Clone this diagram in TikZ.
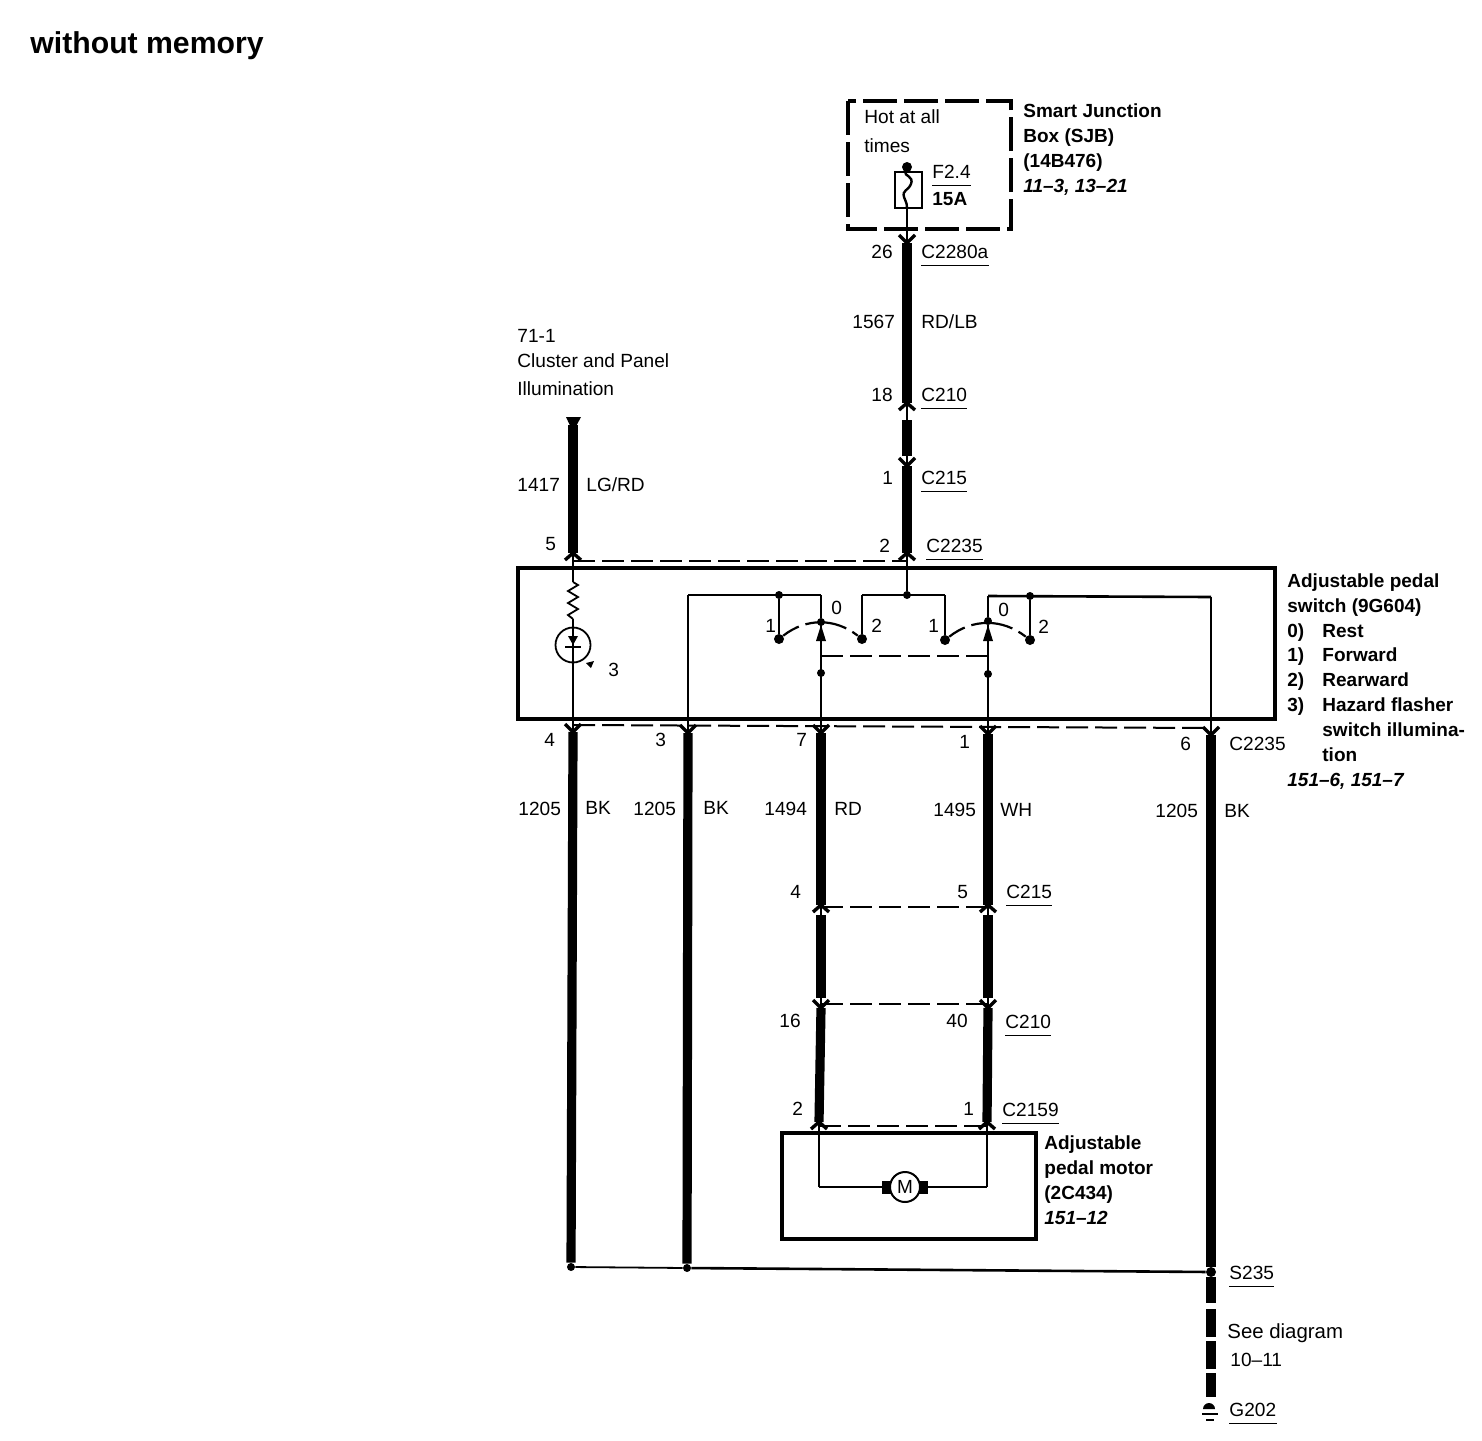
\documentclass[tikz,border=0pt]{standalone}
\usepackage{fontspec}
\setmainfont{Liberation Sans}
\usetikzlibrary{shapes,arrows.meta}
\tikzset{
  wdlabel/.style={anchor=base west, inner sep=0pt, font=\fontsize{9.55}{12}\selectfont},
  wdhead/.style={anchor=base west, inner sep=0pt, font=\fontsize{9.5}{12}\selectfont\bfseries},
  wdref/.style={anchor=base west, inner sep=0pt, font=\fontsize{9.5}{12}\selectfont\bfseries\itshape},
  wddot/.style={circle, fill=black, inner sep=0pt, minimum size=4pt},
  thickwire/.style={line width=4.6pt},
  thinwire/.style={line width=0.9pt},
  feedwire/.style={line width=1.3pt},
  forkline/.style={line width=1.7pt},
  dashwire/.style={line width=1pt, dash pattern=on 11pt off 3.5pt},
  casebox/.style={line width=2pt},
  rulewire/.style={line width=0.5pt},
  arcwire/.style={line width=1.1pt, dash pattern=on 9pt off 3.5pt on 21pt off 3.5pt on 10pt off 0pt}
}
\newcommand{\wdtxt}[3]{\node at (#1) (#2) [wdlabel] {#3};}
\newcommand{\wdbold}[3]{\node at (#1) (#2) [wdhead] {#3};}
\newcommand{\wdpage}[3]{\node at (#1) (#2) [wdref] {#3};}
\newcommand{\wdconn}[3]{\node at (#1) (#2) [wdlabel] {#3}; \draw [rulewire] ([yshift=-3.5pt]#2.base west) -- ([yshift=-3.5pt]#2.base east);}
\newcommand{\wdpt}[2]{\coordinate (#2) at (#1);}
\newcommand{\wddot}[2]{\node at (#1) (#2) [wddot] {};}
\newcommand{\wdthick}[2]{\draw [thickwire] (#1) -- (#2);}
\newcommand{\wdthin}[2]{\draw [thinwire] (#1) -- (#2);}
\newcommand{\wdfeed}[2]{\draw [feedwire] (#1) -- (#2);}
\newcommand{\wddash}[2]{\draw [dashwire] (#1) -- (#2);}
\newcommand{\wdforkup}[1]{\draw [forkline] ([shift={(-8,7)}]#1) -- (#1) -- ([shift={(8,7)}]#1);}
\newcommand{\wdforkdown}[1]{\draw [forkline] ([shift={(-8,-8)}]#1) -- (#1) -- ([shift={(8,-8)}]#1);}
\newcommand{\wdblade}[1]{\fill (#1) -- ([shift={(-5,16)}]#1) -- ([shift={(5,16)}]#1) -- cycle;}
\newcommand{\wdarc}[2]{\draw [arcwire] (#1) to[out=38, in=142] (#2);}
\begin{document}
\begin{tikzpicture}[x=0.5pt, y=-0.5pt]
\useasboundingbox (0,0) rectangle (1482,1440);
\node at (30,53) (title) [anchor=base west, inner sep=0pt, font=\fontsize{15.1}{18}\selectfont\bfseries] {without memory};

% smart junction box
\draw [casebox, dash pattern=on 17pt off 3.5pt] (848,101) rectangle (1011,229);
\wdtxt{864,123}{hot1}{Hot at all}
\wdtxt{864,152}{hot2}{times}
\wdconn{932,178}{fusename}{F2.4}
\wdbold{932,205}{fuseamps}{15A}
\wdbold{1023,117}{sjb1}{Smart Junction}
\wdbold{1023,142}{sjb2}{Box (SJB)}
\wdbold{1023,167}{sjb3}{(14B476)}
\wdpage{1023,192}{sjb4}{11--3, 13--21}
\draw [thinwire] (895,172) rectangle (922,208);
\node at (907,167) (fusein) [wddot, minimum size=5pt] {};
\wdpt{907,208}{fuseout}
\draw [thinwire, line width=1.2pt] (fusein) .. controls (904,176) and (914,176) .. (911,184) .. controls (908,191) and (902,190) .. (904,197) .. controls (905,201) and (907,202) .. (fuseout);

% main feed
\wdpt{907,243}{feeda}
\wdpt{907,403}{feedb}
\wdpt{907,420}{feedc}
\wdpt{907,456}{feedd}
\wdpt{907,466}{feede}
\wdpt{907,553}{feedf}
\wdpt{907,561}{feedtap}
\wddot{907,595}{swfeed}
\wdthin{fuseout}{feeda}
\wdforkdown{feeda}
\wdthick{feeda}{feedb}
\wdforkup{feedb}
\wdthin{feedb}{feedc}
\wdthick{feedc}{feedd}
\wdthin{feedd}{feede}
\wdforkdown{feede}
\wdthick{feede}{feedf}
\wdforkup{feedf}
\wdthin{feedf}{swfeed}
\wdtxt{871,258}{pina}{26}
\wdconn{921,258}{conna}{C2280a}
\wdtxt{852,328}{circa}{1567}
\wdtxt{921,328}{cola}{RD/LB}
\wdtxt{871,401}{pinb}{18}
\wdconn{921,401}{connb}{C210}
\wdtxt{882,484}{pinc}{1}
\wdconn{921,484}{connc}{C215}
\wdtxt{879,552}{pind}{2}
\wdconn{926,552}{connd}{C2235}

% illumination feed
\wdtxt{517,342}{illum1}{71-1}
\wdtxt{517,367}{illum2}{Cluster and Panel}
\wdtxt{517,395}{illum3}{Illumination}
\wdtxt{517,491}{circb}{1417}
\wdtxt{586,491}{colb}{LG/RD}
\wdtxt{545,550}{pine}{5}
\wdpt{573,425}{illa}
\wdpt{573,553}{illb}
\wdpt{573,561}{illtap}
\fill (566,417) -- (581,417) -- (573,432) -- cycle;
\wdthick{illa}{illb}
\wdforkup{illb}
\wddash{illtap}{feedtap}

% pedal switch
\draw [casebox] (518,568) rectangle (1275,719);
\wdbold{1287,587}{sw1}{Adjustable pedal}
\wdbold{1287,612}{sw2}{switch (9G604)}
\wdbold{1287,637}{sw3a}{0)}
\wdbold{1322,637}{sw3b}{Rest}
\wdbold{1287,661}{sw4a}{1)}
\wdbold{1322,661}{sw4b}{Forward}
\wdbold{1287,686}{sw5a}{2)}
\wdbold{1322,686}{sw5b}{Rearward}
\wdbold{1287,711}{sw6a}{3)}
\wdbold{1322,711}{sw6b}{Hazard flasher}
\wdbold{1322,736}{sw7}{switch illumina-}
\wdbold{1322,761}{sw8}{tion}
\wdpage{1287,786}{sw9}{151--6, 151--7}

% lamp
\wdpt{573,582}{resa}
\wdpt{573,619}{resb}
\wdpt{573,732}{lampout}
\wdthin{illb}{resa}
\draw [thinwire] (resa) -- ++(5,3) -- ++(-10,6) -- ++(10,6) -- ++(-10,6) -- ++(10,6) -- ++(-10,6) -- (resb);
\node at (573,645) (lamp) [circle, draw, line width=0.9pt, inner sep=0pt, minimum size=17.5pt] {};
\wdthin{resb}{lampout}
\fill (568,636) -- (578,636) -- (573,645) -- cycle;
\draw [line width=1pt] (565,647) -- (581,647);
\fill (586,663) -- (594,661) -- (591,668) -- cycle;
\wdtxt{608,676}{lampnum}{3}

% switch contacts
\wdpt{688,595}{swa}
\wdpt{688,733}{swb}
\wdpt{821,595}{swc}
\wddot{779,595}{lefttop}
\node at (779,639) (leftone) [wddot, minimum size=5pt] {};
\node at (862,639) (lefttwo) [wddot, minimum size=5pt] {};
\wddot{821,622}{leftcom}
\wdpt{862,595}{swd}
\wdpt{945,595}{swe}
\node at (945,640) (rightone) [wddot, minimum size=5pt] {};
\node at (1030,640) (righttwo) [wddot, minimum size=5pt] {};
\wddot{988,621}{rightcom}
\wdpt{988,596}{swf}
\wddot{1030,596}{righttop}
\wdpt{1211,597}{swg}
\wdpt{1211,735}{swh}
\wdthin{swa}{swb}
\wdfeed{swa}{swc}
\wdfeed{swc}{leftcom}
\wdfeed{lefttop}{leftone}
\wdthin{lefttwo}{swd}
\wdfeed{swd}{swe}
\wdthin{swe}{rightone}
\wdthin{swf}{rightcom}
\wdfeed{swf}{swg}
\wdfeed{righttop}{righttwo}
\wdthin{swg}{swh}
\wdarc{leftone}{lefttwo}
\wdarc{rightone}{righttwo}
\wdpt{821,625}{bladea}
\wdpt{988,625}{bladeb}
\wdblade{bladea}
\wdblade{bladeb}
\wddot{821,673}{gangb}
\wddot{988,674}{gangd}
\wdpt{821,656}{ganga}
\wdpt{988,656}{gangc}
\wddash{ganga}{gangc}
\wdpt{821,733}{outa}
\wdpt{988,734}{outb}
\wdthin{bladea}{outa}
\wdthin{bladeb}{outb}
\wdtxt{765,632}{lnuma}{1}
\wdtxt{831,614}{lnumb}{0}
\wdtxt{871,632}{lnumc}{2}
\wdtxt{928,632}{rnuma}{1}
\wdtxt{998,616}{rnumb}{0}
\wdtxt{1038,633}{rnumc}{2}

% lower harness
\wdpt{573,725}{tapa}
\wdpt{1211,728}{tapb}
\wddash{tapa}{tapb}
\wdpt{573,732}{lowa}
\wddot{571,1267}{splicea}
\wdthick{lampout}{splicea}
\wdforkdown{lowa}
\wddot{687,1268}{spliceb}
\wdthick{swb}{spliceb}
\wdforkdown{swb}
\wdforkdown{outa}
\wdforkdown{outb}
\wdforkdown{swh}
\node at (1211,1272) (splicec) [wddot, minimum size=5pt] {};
\wdthick{swh}{splicec}
\wdthin{splicea}{spliceb}
\wdfeed{spliceb}{splicec}
\wdtxt{544,746}{pinf}{4}
\wdtxt{655,746}{ping}{3}
\wdtxt{796,746}{pinh}{7}
\wdtxt{959,748}{pini}{1}
\wdtxt{1180,750}{pinj}{6}
\wdtxt{1229,750}{conne}{C2235}
\wdtxt{518,815}{circc}{1205}
\wdtxt{585,814}{colc}{BK}
\wdtxt{633,815}{circd}{1205}
\wdtxt{703,814}{cold}{BK}
\wdtxt{764,815}{circe}{1494}
\wdtxt{834,815}{cole}{RD}
\wdtxt{933,816}{circf}{1495}
\wdtxt{1000,816}{colf}{WH}
\wdtxt{1155,817}{circg}{1205}
\wdtxt{1224,817}{colg}{BK}

% motor legs
\wdpt{821,905}{lega}
\wdpt{821,915}{legb}
\wdpt{821,998}{legc}
\wdpt{821,1008}{legd}
\wdpt{819,1122}{lege}
\wdpt{988,905}{rega}
\wdpt{988,915}{regb}
\wdpt{988,998}{regc}
\wdpt{988,1008}{regd}
\wdpt{987,1122}{rege}
\wdthick{outa}{lega}
\wdforkup{lega}
\wdthin{lega}{legb}
\wdthick{legb}{legc}
\wdthin{legc}{legd}
\wdforkdown{legd}
\wdthick{legd}{lege}
\wdforkup{lege}
\wdthick{outb}{rega}
\wdforkup{rega}
\wdthin{rega}{regb}
\wdthick{regb}{regc}
\wdthin{regc}{regd}
\wdforkdown{regd}
\wdthick{regd}{rege}
\wdforkup{rege}
\wdpt{821,907}{dasha}
\wdpt{988,907}{dashb}
\wddash{dasha}{dashb}
\wdpt{821,1004}{dashc}
\wdpt{988,1004}{dashd}
\wddash{dashc}{dashd}
\wdpt{819,1126}{dashe}
\wdpt{987,1126}{dashf}
\wddash{dashe}{dashf}
\wdtxt{790,898}{pink}{4}
\wdtxt{957,898}{pinl}{5}
\wdconn{1006,898}{connf}{C215}
\wdtxt{779,1027}{pinm}{16}
\wdtxt{946,1027}{pinn}{40}
\wdconn{1005,1028}{conng}{C210}
\wdtxt{792,1115}{pino}{2}
\wdtxt{963,1115}{pinp}{1}
\wdconn{1002,1116}{connh}{C2159}

% motor
\draw [casebox, line width=1.6pt] (782,1133) rectangle (1036,1239);
\wdbold{1044,1149}{mot1}{Adjustable}
\wdbold{1044,1174}{mot2}{pedal motor}
\wdbold{1044,1199}{mot3}{(2C434)}
\wdpage{1044,1224}{mot4}{151--12}
\wdpt{819,1187}{mota}
\wdpt{987,1187}{motb}
\node at (887,1187) (brusha) [fill=black, inner sep=0pt, minimum width=5pt, minimum height=6.5pt] {};
\node at (923,1187) (brushb) [fill=black, inner sep=0pt, minimum width=5pt, minimum height=6.5pt] {};
\node at (905,1187) (motor) [circle, draw, fill=white, line width=1pt, inner sep=0pt, minimum size=15pt, font=\fontsize{9.5}{12}\selectfont] {M};
\wdthin{lege}{mota}
\wdfeed{mota}{brusha}
\wdthin{rege}{motb}
\wdfeed{brushb}{motb}

% ground
\wdpt{1211,1303}{gnda}
\wdpt{1211,1309}{gndb}
\wdpt{1211,1397}{gndc}
\wdthick{splicec}{gnda}
\draw [thickwire, dash pattern=on 14pt off 2pt] (gndb) -- (gndc);
\fill (1203,1409) arc (180:360:6) -- cycle;
\draw [line width=1pt] (1202,1414) -- (1218,1414);
\draw [line width=1pt] (1206,1420) -- (1214,1420);
\wdconn{1229,1279}{connj}{S235}
\node at (1227,1338) (see1) [wdlabel, font=\fontsize{10.2}{12}\selectfont] {See diagram};
\wdtxt{1230,1366}{see2}{10--11}
\wdconn{1229,1416}{connk}{G202}
\end{tikzpicture}
\end{document}
